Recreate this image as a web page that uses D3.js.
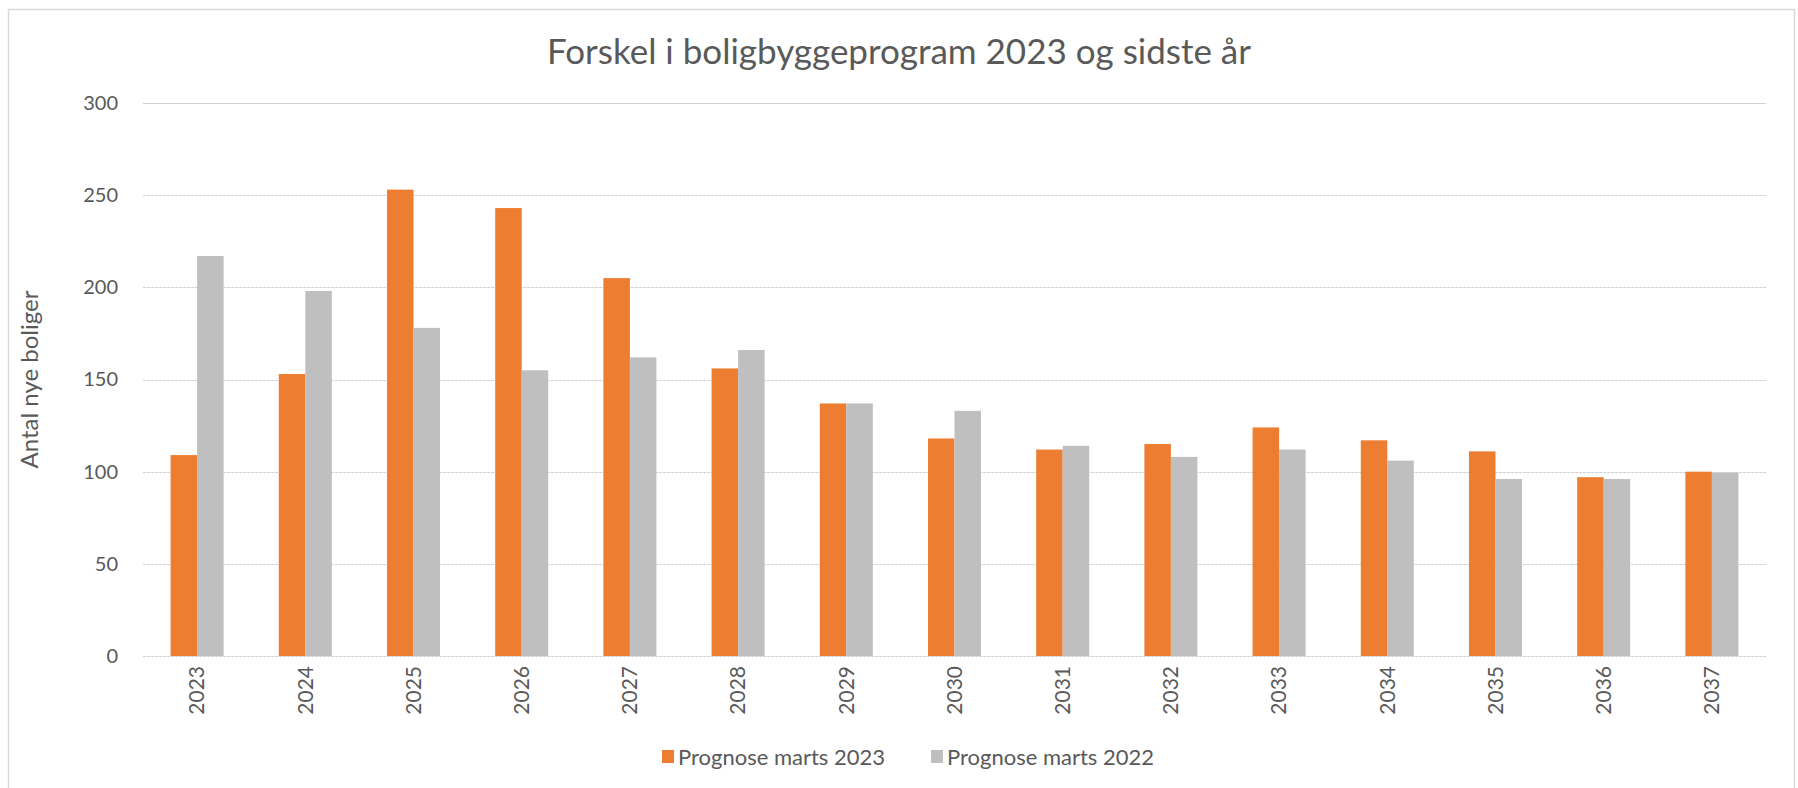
<!DOCTYPE html>
<html>
<head>
<meta charset="utf-8">
<script src="https://cdn.jsdelivr.net/npm/d3@7"></script>
<style>
  html, body { margin: 0; padding: 0; background: #fff; }
  svg { display: block; font-family: Lato, "Open Sans", sans-serif; }
</style>
</head>
<body>
<div id="chart"></div>
<script>
const years = ["2023", "2024", "2025", "2026", "2027", "2028", "2029", "2030", "2031", "2032", "2033", "2034", "2035", "2036", "2037"]
const prognose2023 = [109, 153, 253, 243, 205, 156, 137, 118, 112, 115, 124, 117, 111, 97, 100]
const prognose2022 = [217, 198, 178, 155, 162, 166, 137, 133, 114, 108, 112, 106, 96, 96, 99.5]
const seriesNames = ["Prognose marts 2023", "Prognose marts 2022"]
const yTicks = [0, 50, 100, 150, 200, 250, 300]

const width = 1798
const height = 788
const margin = { top: 103, right: 32, bottom: 132, left: 143 }
const colors = ["#ED7D31", "#BFBFBF"]
const textColor = "#595959"

const data = years.map((year, i) => ({ year, values: [prognose2023[i], prognose2022[i]] }))

const svg = d3.select("#chart")
  .append("svg")
  .attr("width", width)
  .attr("height", height)

// Chart area border
svg.append("rect")
  .attr("x", 8.5)
  .attr("y", 9.5)
  .attr("width", 1786)
  .attr("height", 800)
  .attr("fill", "none")
  .attr("stroke", "#D9D9D9")
  .attr("stroke-width", 1.5)

const x0 = d3.scaleBand()
  .domain(years)
  .range([margin.left, width - margin.right])
  .paddingInner(0.51)
  .paddingOuter(0.255)

const x1 = d3.scaleBand()
  .domain([0, 1])
  .range([0, x0.bandwidth()])

const y = d3.scaleLinear()
  .domain([0, 300])
  .range([height - margin.bottom, margin.top])

// Gridlines
svg.append("g")
  .selectAll("line")
  .data(yTicks)
  .join("line")
  .attr("x1", margin.left)
  .attr("x2", width - margin.right)
  .attr("y1", d => Math.round(y(d)) + 0.5)
  .attr("y2", d => Math.round(y(d)) + 0.5)
  .attr("stroke", "#D0D0D0")
  .attr("stroke-width", 1.2)
  .attr("stroke-dasharray", d => d === 300 ? null : "3,1")

// Y axis labels
svg.append("g")
  .attr("transform", `translate(${margin.left},0)`)
  .call(d3.axisLeft(y).tickValues(yTicks).tickSize(0).tickPadding(25))
  .call(g => g.select(".domain").remove())
  .call(g => g.selectAll("text")
    .attr("fill", textColor)
    .style("font-size", "20px")
    .style("font-family", "Lato, sans-serif"))

// Bars
svg.append("g")
  .selectAll("g")
  .data(data)
  .join("g")
  .attr("transform", d => `translate(${x0(d.year)},0)`)
  .selectAll("rect")
  .data(d => d.values)
  .join("rect")
  .attr("x", (d, i) => x1(i))
  .attr("width", x1.bandwidth())
  .attr("y", d => y(d))
  .attr("height", d => y(0) - y(d))
  .attr("fill", (d, i) => colors[i])

// X axis labels (rotated)
svg.append("g")
  .attr("transform", `translate(0,${height - margin.bottom})`)
  .call(d3.axisBottom(x0).tickSize(0).tickPadding(0))
  .call(g => g.select(".domain").remove())
  .call(g => g.selectAll("text")
    .attr("fill", textColor)
    .style("font-size", "21px")
    .style("font-family", "Lato, sans-serif")
    .attr("text-anchor", "end")
    .attr("transform", "translate(0,10) rotate(-90)")
    .attr("dy", "0.35em")
    .attr("x", 0)
    .attr("y", 0))

// Title
svg.append("text")
  .attr("x", 899)
  .attr("y", 64)
  .attr("text-anchor", "middle")
  .attr("fill", textColor)
  .style("font-size", "35px")
  .text("Forskel i boligbyggeprogram 2023 og sidste år")

// Y axis title
svg.append("text")
  .attr("transform", `translate(38,${(y(0) + y(300)) / 2}) rotate(-90)`)
  .attr("text-anchor", "middle")
  .attr("fill", textColor)
  .style("font-size", "24px")
  .text("Antal nye boliger")

// Legend
const legendX = [662, 931]
const legend = svg.append("g")
  .selectAll("g")
  .data(seriesNames)
  .join("g")
  .attr("transform", (d, i) => `translate(${legendX[i]},757)`)

legend.append("rect")
  .attr("x", 0)
  .attr("y", -7)
  .attr("width", 12)
  .attr("height", 13)
  .attr("fill", (d, i) => colors[i])

legend.append("text")
  .attr("x", 16)
  .attr("y", 0)
  .attr("dy", "0.35em")
  .attr("fill", textColor)
  .style("font-size", "22px")
  .text(d => d)
</script>
</body>
</html>
